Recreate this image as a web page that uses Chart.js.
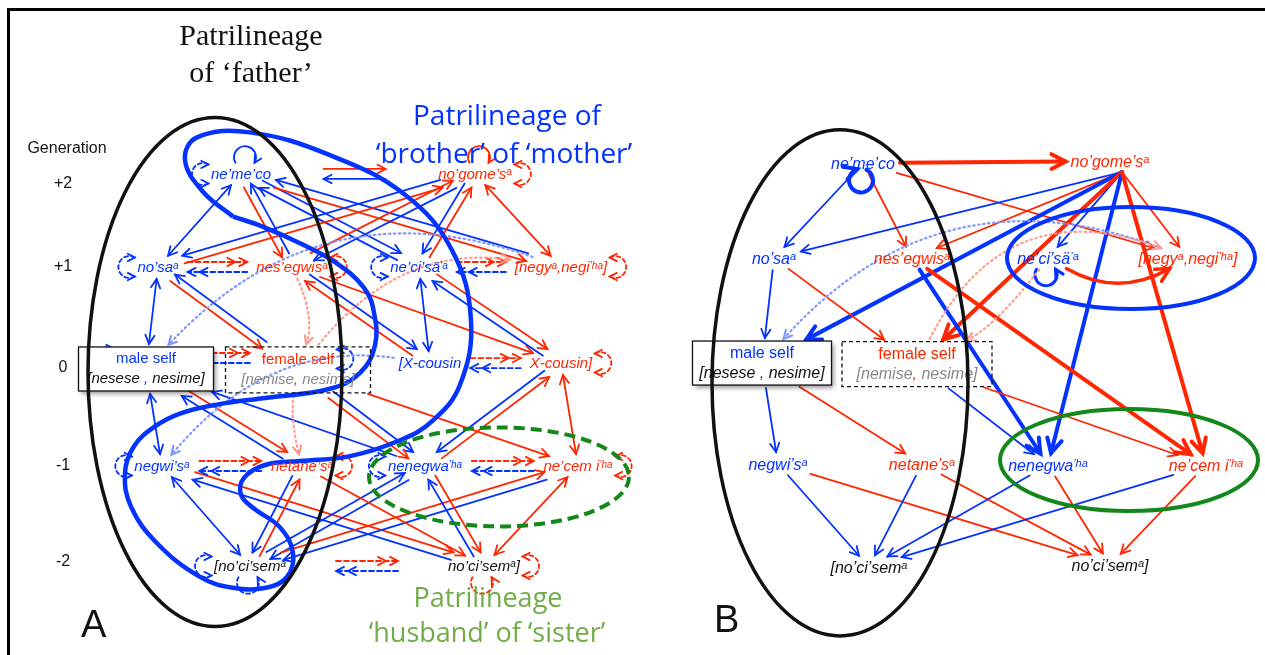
<!doctype html>
<html>

<head>
    <meta charset="utf-8">
    <title>Terminologia de parentesco</title>
    <script src="https://cdn.jsdelivr.net/npm/chart.js"></script>
    <style>
        html, body { margin: 0; padding: 0; background: #fff; }
        canvas { display: block; }
    </style>
</head>

<body>
    <canvas id="rede" width="1265" height="655"></canvas>

    <script>
        // geracoes (eixo vertical) e seus rotulos
        var geracoes = [2, 1, 0, -1, -2]
        var rotulosGeracao = ['+2', '+1', '0', '-1', '-2']

        // termos de parentesco; {..} = sobrescrito
        var ids = ['meco', 'gome', 'sa', 'egwis', 'cisa', 'negy', 'male', 'female', 'xc1', 'xc2', 'negwi', 'netane', 'nenegwa', 'cem', 'sem1', 'sem2']
        var termos = ['ne’me’co', 'no’gome’s{a}', 'no’sa{a}', 'nes’egwis{a}', 'ne’ci’sä{’a}', '[negy{a},negi{’ha}]', 'male self', 'female self',
            '[X-cousin', 'X-cousin]', 'negwi’s{a}', 'netane’s{a}', 'nenegwa{’ha}', 'ne’cem i{’ha}', '[no’ci’sem{a}', 'no’ci’sem{a}]']
        var geracaoTermo = [2, 2, 1, 1, 1, 1, 0, 0, 0, 0, -1, -1, -1, -1, -2, -2]
        var linhagem = ['b', 'r', 'b', 'r', 'b', 'r', 'b', 'r', 'b', 'r', 'b', 'r', 'b', 'r', 'k', 'k']

        // painel A: relacoes [de, para, cor, dupla]
        var arestasA = [
            ['meco', 'sa', 'b', 1], ['meco', 'egwis', 'r', 0], ['egwis', 'meco', 'b', 0],
            ['cisa', 'meco', 'b', 0], ['meco', 'cisa', 'b', 0], ['negy', 'meco', 'b', 0], ['meco', 'negy', 'r', 0],
            ['sa', 'gome', 'r', 0], ['gome', 'sa', 'b', 0], ['egwis', 'gome', 'r', 0], ['gome', 'egwis', 'b', 0],
            ['gome', 'cisa', 'b', 0], ['cisa', 'gome', 'r', 0], ['gome', 'negy', 'r', 1],
            ['sa', 'male', 'b', 1], ['sa', 'female', 'r', 0], ['female', 'sa', 'b', 0],
            ['cisa', 'xc1', 'b', 1], ['egwis', 'xc2', 'r', 0], ['cisa', 'xc2', 'r', 0], ['xc2', 'cisa', 'b', 0],
            ['egwis', 'xc1', 'b', 0], ['xc1', 'egwis', 'r', 0],
            ['male', 'negwi', 'b', 1], ['male', 'netane', 'r', 0], ['netane', 'male', 'b', 0], ['nenegwa', 'male', 'b', 0],
            ['female', 'nenegwa', 'b', 0], ['female', 'nenegwa', 'r', 0], ['female', 'cem', 'r', 0],
            ['xc2', 'cem', 'r', 1], ['xc2', 'nenegwa', 'b', 0], ['nenegwa', 'xc2', 'r', 0],
            ['negwi', 'sem1', 'b', 1], ['negwi', 'sem2', 'r', 0], ['sem2', 'negwi', 'b', 0],
            ['sem1', 'netane', 'r', 0], ['netane', 'sem1', 'b', 0], ['nenegwa', 'sem1', 'b', 0], ['sem1', 'nenegwa', 'b', 0],
            ['cem', 'sem1', 'b', 0], ['sem1', 'cem', 'r', 0],
            ['nenegwa', 'sem2', 'r', 0], ['sem2', 'nenegwa', 'b', 0], ['cem', 'sem2', 'r', 1], ['netane', 'sem2', 'r', 0]
        ]
        // pares na mesma geracao: vermelho ida, azul volta
        var paresA = [['meco', 'gome', 'solido'], ['sa', 'egwis', 'trac'], ['cisa', 'negy', 'trac'], ['male', 'female', 'trac'],
            ['xc1', 'xc2', 'trac'], ['negwi', 'netane', 'trac'], ['nenegwa', 'cem', 'trac'], ['sem1', 'sem2', 'trac']]
        // lacos reflexivos [termo, lado, cor, estilo]
        var lacosA = [['meco', 't', 'b', 'solido'], ['meco', 'l', 'b', 'trac'], ['gome', 't', 'r', 'solido'], ['gome', 'r', 'r', 'trac'],
            ['sa', 'l', 'b', 'trac'], ['egwis', 'r', 'r', 'trac'], ['cisa', 'l', 'b', 'trac'], ['negy', 'r', 'r', 'trac'],
            ['male', 'l', 'b', 'trac'], ['female', 'r', 'b', 'trac'], ['xc2', 'r', 'r', 'trac'],
            ['negwi', 'l', 'b', 'trac'], ['netane', 'r', 'r', 'trac'], ['nenegwa', 'l', 'b', 'trac'], ['cem', 'r', 'r', 'trac'],
            ['sem1', 'l', 'b', 'trac'], ['sem1', 'b', 'b', 'trac'], ['sem2', 'r', 'r', 'trac'], ['sem2', 'b', 'r', 'trac']]
        // curvas pontilhadas [de, para, cor, curvatura]
        var curvasA = [['negy', 'male', 'lb', 140], ['female', 'negy', 'lr', -80], ['egwis', 'female', 'lr', -20],
            ['female', 'netane', 'lr', 10], ['xc1', 'negwi', 'lb', 80]]

        // painel B: relacoes [de, para, cor, forte]
        var arestasB = [
            ['meco', 'gome', 'r', 1], ['meco', 'sa', 'b', 0], ['meco', 'egwis', 'r', 0], ['meco', 'negy', 'r', 0],
            ['gome', 'sa', 'b', 0], ['gome', 'egwis', 'r', 0], ['gome', 'cisa', 'b', 0], ['gome', 'negy', 'r', 0],
            ['gome', 'male', 'b', 1], ['gome', 'female', 'r', 1], ['gome', 'nenegwa', 'b', 1], ['gome', 'cem', 'r', 1],
            ['egwis', 'nenegwa', 'b', 1], ['egwis', 'cem', 'r', 1],
            ['sa', 'male', 'b', 0], ['sa', 'female', 'r', 0], ['female', 'nenegwa', 'b', 0], ['female', 'cem', 'r', 0],
            ['male', 'negwi', 'b', 0], ['male', 'netane', 'r', 0],
            ['negwi', 'sem1', 'b', 0], ['negwi', 'sem2', 'r', 0], ['netane', 'sem1', 'b', 0], ['netane', 'sem2', 'r', 0],
            ['nenegwa', 'sem1', 'b', 0], ['cem', 'sem1', 'b', 0], ['nenegwa', 'sem2', 'r', 0], ['cem', 'sem2', 'r', 0]
        ]
        var lacosB = [['meco', 'b', 'b', 'forte'], ['cisa', 'b', 'b', 'medio']]
        var curvasB = [['negy', 'male', 'lb', 150], ['female', 'negy', 'lr', -130], ['cisa', 'female', 'lr', -20], ['cisa', 'negy', 'r', 40]]

        // ---- layout ----
        var colunaA = [241, 475, 158, 292, 419, 561, 146, 298, 430, 561, 162, 302, 425, 578, 250, 484]
        var ajusteA = [-0.06, -0.06, 0, 0, 0, 0, -0.03, -0.04, 0.03, 0.03, -0.01, -0.01, -0.01, -0.01, -0.02, -0.02]
        var colunaB = [863, 1110, 774, 912, 1048, 1188, 762, 917, null, null, 778, 922, 1048, 1206, 869, 1110]
        var ajusteB = [0.05, 0.07, 0.09, 0.09, 0.09, 0.09, 0.03, 0.02, 0, 0, 0.01, 0.01, 0, 0, -0.03, -0.01]
        var caixasA = { male: [135, 44], female: [145, 46] }
        var caixasB = { male: [139, 44], female: [150, 45] }
        var portasB = { gome: [12, 11] }
        var ajusteRotulo = [-0.16, 0, -0.02, -0.01, 0.02]

        // contorno azul da patrilinhagem do irmao da mae (painel A)
        var cobraX = [233, 203, 185, 197, 250, 330, 405, 452, 471, 460, 433, 400, 350, 300, 265, 244, 241, 254, 280, 293,
            287, 266, 233, 200, 157, 131, 125, 134, 155, 180, 217, 267, 330, 360, 375, 374, 364, 335, 300, 262, 233]
        var cobraG = [1.51, 1.76, 2.08, 2.31, 2.36, 2.13, 1.73, 1.17, 0.46, -0.19, -0.55, -0.75, -0.91, -0.96, -1.0, -1.13, -1.30, -1.44, -1.63, -1.89,
            -2.13, -2.24, -2.24, -2.13, -1.79, -1.42, -1.08, -0.81, -0.61, -0.48, -0.39, -0.32, -0.23, -0.07, 0.21, 0.54, 0.79, 1.05, 1.24, 1.41, 1.51]

        // elipses [centro x, centro geracao, raio x, raio em geracoes, cor, tracejada]
        var elipses = [[215, -0.06, 127, 2.57, 'k', 0], [499, -1.12, 130, 0.5, 'g', 1],
            [840, -0.17, 128, 2.556, 'k', 0], [1131, 1.09, 124, 0.515, 'b', 0], [1129, -0.95, 129, 0.515, 'g', 0]]

        var CORES = { b: '#0433ff', r: '#ff2600', k: '#111111', g: '#888888', lb: '#8297ff', lr: '#ff9c8e', verde: '#13871a' }
        var linhasSelf = {
            male: [{ t: '[nesese ', cor: 'k' }, { t: ',', cor: 'b' }, { t: ' nesime]', cor: 'k' }],
            female: [{ t: '[nemise', cor: 'g' }, { t: ',', cor: 'r' }, { t: ' nesime]', cor: 'g' }]
        }

        function pontos(coluna, ajuste) {
            var lista = []
            ids.forEach(function (id, i) {
                if (coluna[i] === null) return
                lista.push({ x: coluna[i], y: geracaoTermo[i] + ajuste[i], id: id, termo: termos[i], lin: linhagem[i] })
            })
            return lista
        }

        function partes(termo) {
            var out = [], re = /([^{]+)|\{([^}]*)\}/g, m
            while ((m = re.exec(termo))) out.push(m[1] ? { t: m[1], sup: false } : { t: m[2], sup: true })
            return out
        }

        function fonte(tam, reto) {
            return (reto ? '' : 'italic ') + tam + "px 'Liberation Sans', Arial, sans-serif"
        }

        function medeRico(ctx, segs, tam, reto) {
            var w = 0
            segs.forEach(function (s) {
                ctx.font = fonte(s.sup ? Math.round(tam * 0.68) : tam, reto)
                w += ctx.measureText(s.t).width
            })
            return w
        }

        function escreveRico(ctx, segs, cx, cy, tam, cor, reto) {
            var x = cx - medeRico(ctx, segs, tam, reto) / 2
            ctx.textBaseline = 'alphabetic'
            ctx.textAlign = 'left'
            segs.forEach(function (s) {
                ctx.font = fonte(s.sup ? Math.round(tam * 0.68) : tam, reto)
                ctx.fillStyle = s.cor ? CORES[s.cor] : cor
                ctx.fillText(s.t, x, cy + tam * 0.36 - (s.sup ? tam * 0.26 : 0))
                x += ctx.measureText(s.t).width
            })
        }

        function montaNos(chart, indice, tam, caixas, portas) {
            var ctx = chart.ctx
            var meta = chart.getDatasetMeta(indice)
            var mapa = {}
            chart.data.datasets[indice].data.forEach(function (d, i) {
                var el = meta.data[i]
                var segs = partes(d.termo)
                var caixa = caixas[d.id]
                var no = { x: el.x, y: el.y, segs: segs, lin: d.lin, tam: tam, id: d.id, caixa: caixa, porta: portas[d.id] }
                no.tw = medeRico(ctx, segs, tam, !!caixa) / 2 + 2
                if (caixa) {
                    no.hw = caixa[0] / 2; no.hh = caixa[1] / 2; no.yTexto = el.y - 11
                } else {
                    no.hw = no.tw; no.hh = 9; no.yTexto = el.y
                }
                mapa[d.id] = no
            })
            return mapa
        }

        function saida(no, ux, uy) {
            var tx = Math.abs(ux) > 1e-6 ? no.hw / Math.abs(ux) : Infinity
            var ty = Math.abs(uy) > 1e-6 ? no.hh / Math.abs(uy) : Infinity
            return Math.min(tx, ty)
        }

        function seta(ctx, x, y, ang, tam) {
            ctx.save()
            ctx.setLineDash([])
            ctx.beginPath()
            ctx.moveTo(x - tam * Math.cos(ang - 0.48), y - tam * Math.sin(ang - 0.48))
            ctx.lineTo(x, y)
            ctx.lineTo(x - tam * Math.cos(ang + 0.48), y - tam * Math.sin(ang + 0.48))
            ctx.stroke()
            ctx.restore()
        }

        function desenhaArestas(ctx, nos, lista, painelB) {
            var grupos = {}
            lista.forEach(function (e) {
                var k = [e[0], e[1]].sort().join('|')
                ;(grupos[k] = grupos[k] || []).push(e)
            })
            lista.forEach(function (e) {
                var a = nos[e[0]], b = nos[e[1]]
                var k = [e[0], e[1]].sort().join('|'), g = grupos[k]
                var desloc = (g.indexOf(e) - (g.length - 1) / 2) * 8
                if (k.split('|')[0] !== e[0]) desloc = -desloc
                var ox = a.porta ? a.x + a.porta[0] : a.x, oy = a.porta ? a.y + a.porta[1] : a.y
                var dx = b.x - ox, dy = b.y - oy, L = Math.hypot(dx, dy)
                var ux = dx / L, uy = dy / L, nx = -uy, ny = ux
                var s = a.porta ? 0 : saida(a, ux, uy) + 3, f = saida(b, -ux, -uy) + 3
                var x1 = ox + ux * s + nx * desloc, y1 = oy + uy * s + ny * desloc
                var x2 = b.x - ux * f + nx * desloc, y2 = b.y - uy * f + ny * desloc
                var forte = painelB && e[3]
                ctx.strokeStyle = CORES[e[2]]
                ctx.lineWidth = forte ? 4 : 1.8
                ctx.setLineDash([])
                ctx.beginPath()
                ctx.moveTo(x1, y1)
                ctx.lineTo(x2, y2)
                ctx.stroke()
                var ang = Math.atan2(y2 - y1, x2 - x1)
                seta(ctx, x2, y2, ang, forte ? 16 : 10)
                if (!painelB && e[3]) seta(ctx, x1, y1, ang + Math.PI, 10)
            })
        }

        function desenhaPar(ctx, a, b, estilo) {
            var esq = a.x + a.tw, dir = b.x - b.tw
            var gap = dir - esq, L = Math.min(gap - 14, 62)
            var x1 = esq + (gap - L) / 2, x2 = x1 + L
            var y = a.yTexto
            ctx.lineWidth = 1.8
            ctx.setLineDash(estilo === 'trac' ? [5, 3] : [])
            ctx.strokeStyle = CORES.r
            ctx.beginPath(); ctx.moveTo(x1, y - 5); ctx.lineTo(x2, y - 5); ctx.stroke()
            seta(ctx, x2, y - 5, 0, 9)
            if (estilo === 'trac') seta(ctx, x2 - 12, y - 5, 0, 9)
            ctx.setLineDash(estilo === 'trac' ? [5, 3] : [])
            ctx.strokeStyle = CORES.b
            ctx.beginPath(); ctx.moveTo(x2, y + 5); ctx.lineTo(x1, y + 5); ctx.stroke()
            seta(ctx, x1, y + 5, Math.PI, 9)
            if (estilo === 'trac') seta(ctx, x1 + 12, y + 5, Math.PI, 9)
            ctx.setLineDash([])
        }

        function desenhaLaco(ctx, no, lado, cor, estilo) {
            var r = estilo === 'forte' ? 12 : 11
            var P = Math.PI
            ctx.strokeStyle = CORES[cor]
            ctx.lineWidth = estilo === 'forte' ? 4 : (estilo === 'medio' ? 3 : 1.8)
            ctx.setLineDash(estilo === 'trac' ? [4, 3] : [])
            ctx.beginPath()
            var cx, cy, tam = estilo === 'forte' ? 14 : 9
            if (lado === 'l' || lado === 'r') {
                var sinal = lado === 'l' ? -1 : 1
                cx = no.x + sinal * (no.tw + r * 0.55)
                cy = no.yTexto
                if (lado === 'l') ctx.arc(cx, cy, r, -P / 3, P / 3, true)
                else ctx.arc(cx, cy, r, -2 * P / 3, 2 * P / 3, false)
                ctx.stroke()
                var ex = cx - sinal * r * 0.5, ang = lado === 'l' ? 0 : P
                seta(ctx, ex, cy - r * 0.87, ang, 8)
                seta(ctx, ex, cy + r * 0.87, ang, 8)
            } else if (lado === 't') {
                cx = no.x + 4
                cy = no.yTexto - no.hh - r * 0.7
                ctx.arc(cx, cy, r, 5 * P / 6, P / 6, false)
                ctx.stroke()
                seta(ctx, cx + r * Math.cos(P / 6), cy + r * Math.sin(P / 6), P / 6 + P / 2, 8)
            } else {
                cx = no.x - 2
                cy = no.yTexto + no.hh + r * 0.7
                var ini = estilo === 'forte' ? -0.35 * P : 7 * P / 6
                var fim = estilo === 'forte' ? 1.4 * P : -P / 6
                var anti = estilo !== 'forte'
                ctx.arc(cx, cy, r, ini, fim, anti)
                ctx.stroke()
                var tg = anti ? fim - P / 2 : fim + P / 2
                seta(ctx, cx + r * Math.cos(fim), cy + r * Math.sin(fim), tg, tam)
            }
            ctx.setLineDash([])
        }

        function desenhaCurva(ctx, a, b, cor, curv) {
            var dx = b.x - a.x, dy = b.y - a.y, L = Math.hypot(dx, dy)
            var ux = dx / L, uy = dy / L
            var mx = (a.x + b.x) / 2 - uy * curv, my = (a.y + b.y) / 2 + ux * curv
            var t1x = mx - a.x, t1y = my - a.y, l1 = Math.hypot(t1x, t1y)
            var t2x = mx - b.x, t2y = my - b.y, l2 = Math.hypot(t2x, t2y)
            var s = saida(a, t1x / l1, t1y / l1) + 3, f = saida(b, t2x / l2, t2y / l2) + 3
            var x1 = a.x + t1x / l1 * s, y1 = a.y + t1y / l1 * s
            var x2 = b.x + t2x / l2 * f, y2 = b.y + t2y / l2 * f
            var pontilhada = cor === 'lb' || cor === 'lr'
            ctx.strokeStyle = CORES[cor]
            ctx.lineWidth = pontilhada ? 2.2 : 3.5
            ctx.setLineDash(pontilhada ? [1.5, 3.5] : [])
            ctx.beginPath()
            ctx.moveTo(x1, y1)
            ctx.quadraticCurveTo(mx, my, x2, y2)
            ctx.stroke()
            seta(ctx, x2, y2, Math.atan2(y2 - my, x2 - mx), pontilhada ? 9 : 15)
            ctx.setLineDash([])
        }

        function desenhaCaixa(ctx, no, tracejada) {
            var x = no.x - no.hw, y = no.y - no.hh, w = no.hw * 2, h = no.hh * 2
            ctx.save()
            if (!tracejada) {
                ctx.shadowColor = 'rgba(0,0,0,0.45)'
                ctx.shadowBlur = 5
                ctx.shadowOffsetX = 2
                ctx.shadowOffsetY = 3
                ctx.fillStyle = '#ffffff'
                ctx.fillRect(x, y, w, h)
                ctx.shadowColor = 'transparent'
            }
            ctx.strokeStyle = '#111'
            ctx.lineWidth = 1.3
            ctx.setLineDash(tracejada ? [4, 3] : [])
            ctx.strokeRect(x, y, w, h)
            ctx.restore()
        }

        function desenhaTermos(ctx, nos) {
            Object.keys(nos).forEach(function (id) {
                var no = nos[id]
                var cor = CORES[no.lin]
                if (no.caixa) {
                    desenhaCaixa(ctx, no, id === 'female')
                    escreveRico(ctx, no.segs, no.x, no.yTexto, no.tam, cor, true)
                    escreveRico(ctx, linhasSelf[id], no.x, no.yTexto + 20, no.tam, cor, false)
                } else {
                    escreveRico(ctx, no.segs, no.x, no.yTexto, no.tam, cor, false)
                }
            })
        }

        var pluginDiagrama = {
            id: 'diagrama',
            beforeDatasetsDraw: function (chart) {
                var ctx = chart.ctx
                var A = montaNos(chart, 0, 15, caixasA, {})
                var B = montaNos(chart, 1, 16, caixasB, portasB)
                chart.$nos = { A: A, B: B }
                ctx.save()
                ctx.lineCap = 'round'
                desenhaArestas(ctx, A, arestasA, false)
                paresA.forEach(function (p) { desenhaPar(ctx, A[p[0]], A[p[1]], p[2]) })
                lacosA.forEach(function (l) { desenhaLaco(ctx, A[l[0]], l[1], l[2], l[3]) })
                curvasA.forEach(function (c) { desenhaCurva(ctx, A[c[0]], A[c[1]], c[2], c[3]) })
                desenhaArestas(ctx, B, arestasB, true)
                lacosB.forEach(function (l) { desenhaLaco(ctx, B[l[0]], l[1], l[2], l[3]) })
                curvasB.forEach(function (c) { desenhaCurva(ctx, B[c[0]], B[c[1]], c[2], c[3]) })
                ctx.restore()
            },
            afterDatasetsDraw: function (chart) {
                var ctx = chart.ctx
                var xs = chart.scales.x, ys = chart.scales.y
                ctx.save()
                desenhaTermos(ctx, chart.$nos.A)
                desenhaTermos(ctx, chart.$nos.B)

                // elipses das patrilinhagens
                elipses.forEach(function (e) {
                    var cx = xs.getPixelForValue(e[0]), cy = ys.getPixelForValue(e[1])
                    var ry = Math.abs(ys.getPixelForValue(e[1] + e[3]) - cy)
                    ctx.beginPath()
                    ctx.ellipse(cx, cy, e[2], ry, 0, 0, 2 * Math.PI)
                    ctx.strokeStyle = e[4] === 'g' ? CORES.verde : CORES[e[4]]
                    ctx.lineWidth = e[4] === 'k' ? 3.5 : 4
                    ctx.setLineDash(e[5] ? [11, 6] : [])
                    ctx.stroke()
                })
                ctx.setLineDash([])

                // rotulos de geracao
                ctx.fillStyle = '#111'
                ctx.textAlign = 'center'
                ctx.textBaseline = 'middle'
                ctx.font = "16px 'Liberation Sans', Arial, sans-serif"
                ctx.fillText('Generation', 67, 149)
                geracoes.forEach(function (g, i) {
                    ctx.fillText(rotulosGeracao[i], 63, ys.getPixelForValue(g + ajusteRotulo[i]))
                })

                // titulos
                ctx.textBaseline = 'alphabetic'
                ctx.font = "30px 'Liberation Serif', 'Times New Roman', serif"
                ctx.fillText('Patrilineage', 251, 45)
                ctx.fillText('of ‘father’', 251, 82)
                ctx.fillStyle = CORES.b
                ctx.font = "28px 'Open Sans', sans-serif"
                ctx.fillText('Patrilineage of', 507, 125)
                ctx.fillText('‘brother’ of ‘mother’', 504, 163)
                ctx.fillStyle = '#70ad47'
                ctx.font = "27px 'Open Sans', sans-serif"
                ctx.fillText('Patrilineage', 488, 607)
                ctx.fillText('‘husband’ of ‘sister’', 487, 642)
                ctx.fillStyle = '#111'
                ctx.textAlign = 'left'
                ctx.font = "38px 'Liberation Sans', Arial, sans-serif"
                ctx.fillText('A', 81, 637)
                ctx.fillText('B', 714, 632)

                // moldura
                ctx.strokeStyle = '#000'
                ctx.lineWidth = 3
                ctx.beginPath()
                ctx.moveTo(8.5, 660)
                ctx.lineTo(8.5, 9.5)
                ctx.lineTo(1270, 9.5)
                ctx.stroke()
                ctx.restore()
            }
        }

        var cobra = cobraX.map(function (x, i) { return { x: x, y: cobraG[i] } })

        var rede = new Chart(document.getElementById('rede').getContext('2d'), {
            type: 'scatter',
            data: {
                datasets: [{
                    label: 'A',
                    data: pontos(colunaA, ajusteA),
                    pointRadius: 0
                }, {
                    label: 'B',
                    data: pontos(colunaB, ajusteB),
                    pointRadius: 0
                }, {
                    label: 'brother of mother',
                    data: cobra,
                    showLine: true,
                    tension: 0.4,
                    borderColor: '#0433ff',
                    borderWidth: 4.5,
                    pointRadius: 0,
                    fill: false
                }]
            },
            options: {
                responsive: false,
                animation: false,
                events: [],
                layout: { padding: 0 },
                plugins: {
                    legend: { display: false },
                    tooltip: { enabled: false }
                },
                scales: {
                    x: { type: 'linear', min: 0, max: 1265, display: false },
                    y: { type: 'linear', min: -2.919, max: 3.697, display: false }
                }
            },
            plugins: [pluginDiagrama]
        })
    </script>
</body>

</html>
